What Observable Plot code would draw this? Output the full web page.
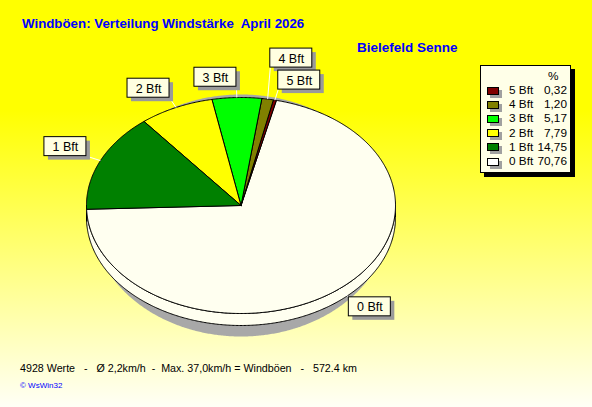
<!DOCTYPE html>
<html><head><meta charset="utf-8">
<script src="https://cdn.jsdelivr.net/npm/d3@7"></script>
<script src="https://cdn.jsdelivr.net/npm/@observablehq/plot@0.6"></script>
<style>
html,body{margin:0;padding:0;background:#fff;}
#wrap{position:relative;width:592px;height:407px;overflow:hidden;
  background:linear-gradient(to bottom,#ffff00 0%,#ffff00 27%,#fffff6 100%);
  font-family:"Liberation Sans",Arial,sans-serif;}
#chart{position:absolute;left:0;top:0;}
#title{position:absolute;left:22px;top:16px;font-weight:bold;font-size:13.3px;color:#0000ff;white-space:pre;}
#station{position:absolute;left:357px;top:40px;font-weight:bold;font-size:13.5px;color:#0000ff;white-space:pre;}
#footer{position:absolute;left:20px;top:362px;font-size:10.7px;color:#000;white-space:pre;}
#credit{position:absolute;left:20px;top:381px;font-size:8px;color:#0000ff;white-space:pre;}
#legend{position:absolute;left:480px;top:65px;width:89px;height:106px;background:#ffffe8;border:1px solid #000;box-shadow:4px 4px 0 #000;}
.lg{position:absolute;font-size:11.8px;color:#000;white-space:pre;line-height:12px;}
.sw{position:absolute;width:10px;height:6px;border:1px solid #000;box-shadow:3px 3px 0 #a0a0a0;}
</style>
</head><body>
<div id="wrap">
  <div id="chart"></div>
  <div id="title"></div>
  <div id="station"></div>
  <div id="legend"></div>
  <div id="footer"></div>
  <div id="credit"></div>
</div>
<script>
// ---- data ----
const categories = ["5 Bft", "4 Bft", "3 Bft", "2 Bft", "1 Bft", "0 Bft"];
const percents = [0.32, 1.20, 5.17, 7.79, 14.75, 70.76];
const sliceColors = ["#800000", "#808000", "#00ff00", "#ffff00", "#008000", "#fffff0"];
const legendHeader = "%";
const titleText = "Windböen: Verteilung Windstärke  April 2026";
const stationText = "Bielefeld Senne";
const footerText = "4928 Werte   -   Ø 2,2km/h  -  Max. 37,0km/h = Windböen   -   572.4 km";
const creditText = "© WsWin32";

// ---- layout ----
const W = 592, H = 407;
const CX = 240.5, CY = 205, RX = 154.5, RY = 108, DEPTH = 12, START = 182;
const rad = a => a * Math.PI / 180;
const pt = (a, r = 1, dy = 0) => ({x: CX + r * RX * Math.cos(rad(a)), y: CY - r * RY * Math.sin(rad(a)) + dy});
function arc(a0, a1, dy = 0) {
  const n = Math.max(2, Math.ceil(Math.abs(a1 - a0) / 0.5));
  const out = [];
  for (let i = 0; i <= n; i++) out.push(pt(a0 + (a1 - a0) * i / n, 1, dy));
  return out;
}

// pie order: 0 Bft first, then 5..1 Bft, counter-clockwise
const order = [5, 0, 1, 2, 3, 4];
const total = d3.sum(percents);
let acc = START;
const slices = order.map(i => {
  const span = percents[i] / total * 360;
  const s = {id: categories[i], color: sliceColors[i], a0: acc, a1: acc + span, mid: acc + span / 2};
  acc += span;
  return s;
});

// top faces
const topPts = [];
for (const s of slices) {
  const c = {x: CX, y: CY};
  [c, ...arc(s.a0, s.a1), c].forEach(p => topPts.push({...p, id: s.id, color: s.color}));
}
// side faces (front half only)
const sidePts = [];
for (const s of slices) {
  for (const [lo, hi] of [[180, 360], [540, 720]]) {
    const a = Math.max(s.a0, lo), b = Math.min(s.a1, hi);
    if (b > a) {
      const top = arc(a, b), bot = arc(b, a, DEPTH);
      [...top, ...bot, top[0]].forEach(p => sidePts.push({...p, id: s.id + lo, color: s.color}));
    }
  }
}
// shadow
const shadowPts = [];
for (let i = 0; i <= 720; i++) {
  const a = rad(i / 2);
  shadowPts.push({x: CX + 150 * Math.cos(a), y: CY + 10 - 121 * Math.sin(a)});
}

// labels
const BW = 42, BH = 19, GAP = 3;
const placed = [];
const labels = slices.map(s => {
  const c = pt(s.mid, 1.1), e = pt(s.mid, 1.0);
  const left = Math.cos(rad(s.mid)) < 0, upper = Math.sin(rad(s.mid)) > 0;
  let bx1 = left ? c.x - BW : c.x;
  let by1 = upper ? c.y - BH : c.y;
  let moved = true;
  while (moved) {
    moved = false;
    for (const p of placed) {
      if (bx1 < p.bx1 + BW && bx1 + BW > p.bx1 && by1 < p.by1 + BH && by1 + BH > p.by1) {
        by1 = upper ? p.by1 - BH - GAP : p.by1 + BH + GAP;
        moved = true;
      }
    }
  }
  const L = {name: s.id, ex: e.x, ey: e.y, px: left ? bx1 + BW : bx1, py: upper ? by1 + BH : by1,
    bx1, bx2: bx1 + BW, by1, by2: by1 + BH};
  placed.push(L);
  return L;
});

const chart = Plot.plot({
  width: W, height: H, margin: 0,
  x: {domain: [0, W], range: [0, W], axis: null},
  y: {domain: [0, H], range: [0, H], axis: null},
  color: {type: "identity"},
  style: {background: "transparent", fontFamily: "Liberation Sans, Arial, sans-serif", fontSize: "12px", overflow: "visible"},
  marks: [
    Plot.line(shadowPts, {x: "x", y: "y", fill: "#a8a8a8", stroke: "none"}),
    Plot.line(sidePts, {x: "x", y: "y", z: "id", fill: "color", stroke: "#000", strokeWidth: 1}),
    Plot.line(topPts, {x: "x", y: "y", z: "id", fill: "color", stroke: "#000", strokeWidth: 1}),
    Plot.link(labels, {x1: "ex", y1: "ey", x2: "px", y2: "py", stroke: "#ffffff", strokeWidth: 1}),
    Plot.rect(labels, {x1: d => d.bx1 + 4, x2: d => d.bx2 + 4, y1: d => d.by1 + 4, y2: d => d.by2 + 4, fill: "#9a9a9a"}),
    Plot.rect(labels, {x1: "bx1", x2: "bx2", y1: "by1", y2: "by2", fill: "#ffffe1", stroke: "#000", strokeWidth: 1}),
    Plot.text(labels, {x: d => (d.bx1 + d.bx2) / 2, y: d => (d.by1 + d.by2) / 2 + 0.5, text: "name", fontSize: 12.5, fill: "#000"})
  ]
});
document.getElementById("chart").append(chart);

document.getElementById("title").textContent = titleText;
document.getElementById("station").textContent = stationText;
document.getElementById("footer").textContent = footerText;
document.getElementById("credit").textContent = creditText;

// legend
const lg = document.getElementById("legend");
const hdr = document.createElement("div");
hdr.className = "lg"; hdr.textContent = legendHeader;
hdr.style.left = "67px"; hdr.style.top = "4px";
lg.append(hdr);
categories.forEach((c, i) => {
  const top = 19.5 + i * 14.2;
  const sw = document.createElement("div");
  sw.className = "sw"; sw.style.background = i === 5 ? "#ffffff" : sliceColors[i];
  sw.style.left = "6px"; sw.style.top = (top + 1) + "px";
  const t = document.createElement("div");
  t.className = "lg"; t.textContent = c; t.style.left = "28px"; t.style.top = (top - 1.5) + "px";
  const v = document.createElement("div");
  v.className = "lg"; v.textContent = percents[i].toFixed(2).replace(".", ",");
  v.style.right = "3px"; v.style.top = (top - 1.5) + "px";
  lg.append(sw, t, v);
});
</script>
</body></html>
